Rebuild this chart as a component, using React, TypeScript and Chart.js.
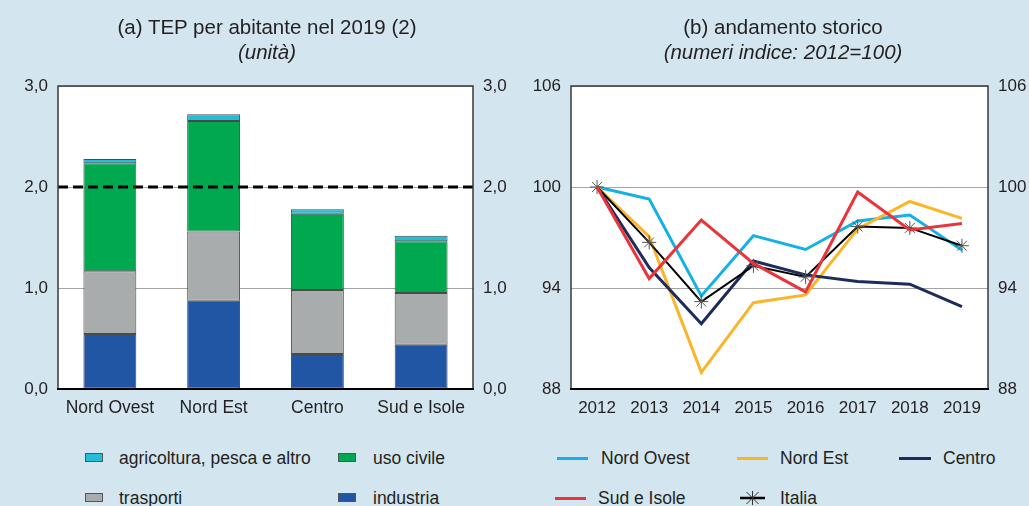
import React, { useEffect, useRef } from "react";
import { Chart, registerables } from "chart.js";

Chart.register(...registerables);

// ---- Panel (a) data ----
const categories = ["Nord Ovest", "Nord Est", "Centro", "Sud e Isole"];
const industria = [0.544, 0.874, 0.346, 0.439];
const trasporti = [0.623, 0.686, 0.633, 0.511];
const usoCivile = [1.068, 1.094, 0.755, 0.514];
const agricoltura = [0.043, 0.066, 0.046, 0.053];
const soglia = 2.0;
const leftTickLabels = ["0,0", "1,0", "2,0", "3,0"];

// ---- Panel (b) data ----
const years = ["2012", "2013", "2014", "2015", "2016", "2017", "2018", "2019"];
const nordOvest = [100, 99.28, 93.53, 97.11, 96.29, 97.98, 98.34, 96.25];
const nordEst = [100, 97.05, 88.99, 93.13, 93.59, 97.51, 99.14, 98.14];
const centro = [100, 95.22, 91.88, 95.6, 94.78, 94.39, 94.23, 92.89];
const sudIsole = [100, 94.56, 98.04, 95.46, 93.77, 99.7, 97.45, 97.83];
const italia = [100, 96.71, 93.19, 95.32, 94.66, 97.65, 97.57, 96.51];
const rightTickLabels = ["88", "94", "100", "106"];

const FONT = "'Liberation Sans', Arial, sans-serif";
const TXT = "#231f20";
const BG = "#d3e5ef";

const C_AGR = "#22bdd6";
const C_CIV = "#00a94f";
const C_TRA = "#a9acad";
const C_IND = "#2156a5";

const C_NO = "#14b1e7";
const C_NE = "#fbb52b";
const C_CE = "#1d2c5b";
const C_SU = "#e9343b";
const C_IT = "#000000";

const framePlugin = {
  id: "frame",
  beforeDraw(chart: any) {
    const { ctx, chartArea: a } = chart;
    ctx.save();
    ctx.fillStyle = "#ffffff";
    ctx.fillRect(a.left, a.top, a.right - a.left, a.bottom - a.top);
    ctx.restore();
  },
  afterDraw(chart: any) {
    const { ctx, chartArea: a } = chart;
    ctx.save();
    ctx.strokeStyle = "#3a3a3a";
    ctx.lineWidth = 1.5;
    ctx.beginPath();
    ctx.moveTo(a.left, a.bottom);
    ctx.lineTo(a.left, a.top);
    ctx.lineTo(a.right, a.top);
    ctx.lineTo(a.right, a.bottom);
    ctx.stroke();
    ctx.strokeStyle = "#000000";
    ctx.lineWidth = 2;
    ctx.beginPath();
    ctx.moveTo(a.left - 1, a.bottom);
    ctx.lineTo(a.right + 1, a.bottom);
    ctx.stroke();
    ctx.restore();
  },
};

const thresholdPlugin = {
  id: "threshold",
  afterDatasetsDraw(chart: any) {
    const { ctx, chartArea: a, scales } = chart;
    const y = scales.y.getPixelForValue(soglia);
    ctx.save();
    ctx.strokeStyle = "#000000";
    ctx.lineWidth = 3;
    ctx.setLineDash([10, 5]);
    ctx.beginPath();
    ctx.moveTo(a.left, y);
    ctx.lineTo(a.right, y);
    ctx.stroke();
    ctx.restore();
  },
};

const tickFont = { family: FONT, size: 17 };
const catFont = { family: FONT, size: 17.5 };

function BarPanel() {
  const ref = useRef<HTMLCanvasElement | null>(null);
  useEffect(() => {
    if (!ref.current) return;
    const bw = { borderColor: "#4a4a4a", borderWidth: 1, borderSkipped: false as any };
    const chart = new Chart(ref.current, {
      type: "bar",
      data: {
        labels: categories,
        datasets: [
          { label: "industria", data: industria, backgroundColor: C_IND, ...bw },
          { label: "trasporti", data: trasporti, backgroundColor: C_TRA, ...bw },
          { label: "uso civile", data: usoCivile, backgroundColor: C_CIV, ...bw },
          { label: "agricoltura, pesca e altro", data: agricoltura, backgroundColor: C_AGR, ...bw },
        ],
      },
      options: {
        responsive: false,
        animation: false,
        layout: { padding: { top: 86, bottom: 0, left: 0, right: 0 } },
        datasets: { bar: { barPercentage: 0.51, categoryPercentage: 1 } },
        plugins: { legend: { display: false }, tooltip: { enabled: false }, title: { display: false } },
        scales: {
          x: {
            stacked: true,
            grid: { display: false },
            border: { display: false },
            ticks: { color: TXT, font: catFont, padding: 1 },
            afterFit: (axis: any) => { axis.height = 31; },
          },
          y: {
            stacked: true,
            min: 0,
            max: 3,
            position: "left",
            grid: { color: "#a3a3a3", lineWidth: 1, drawTicks: false },
            border: { display: false },
            ticks: {
              stepSize: 1,
              color: TXT,
              font: tickFont,
              padding: 10,
              callback: (_v: any, i: number) => leftTickLabels[i],
            },
            afterFit: (axis: any) => { axis.width = 58; },
          },
          y2: {
            min: 0,
            max: 3,
            position: "right",
            grid: { display: false, drawTicks: false },
            border: { display: false },
            ticks: {
              stepSize: 1,
              color: TXT,
              font: tickFont,
              padding: 10,
              callback: (_v: any, i: number) => leftTickLabels[i],
            },
            afterFit: (axis: any) => { axis.width = 42; },
          },
        },
      },
      plugins: [framePlugin, thresholdPlugin],
    });
    return () => chart.destroy();
  }, []);
  return <canvas ref={ref} width={515} height={420} style={{ position: "absolute", left: 0, top: 0, display: "block" }} />;
}

function LinePanel() {
  const ref = useRef<HTMLCanvasElement | null>(null);
  useEffect(() => {
    if (!ref.current) return;
    const common = { pointRadius: 0, borderWidth: 3, tension: 0, fill: false };
    const chart = new Chart(ref.current, {
      type: "line",
      data: {
        labels: years,
        datasets: [
          { label: "Sud e Isole", data: sudIsole, borderColor: C_SU, order: 0, ...common },
          {
            label: "Italia",
            data: italia,
            borderColor: C_IT,
            order: 1,
            ...common,
            borderWidth: 2,
            pointRadius: 7,
            pointStyle: "star",
            pointBorderColor: "#555555",
            pointBackgroundColor: "rgba(0,0,0,0)",
            pointBorderWidth: 1,
          },
          { label: "Centro", data: centro, borderColor: C_CE, order: 2, ...common },
          { label: "Nord Est", data: nordEst, borderColor: C_NE, order: 3, ...common },
          { label: "Nord Ovest", data: nordOvest, borderColor: C_NO, order: 4, ...common },
        ],
      },
      options: {
        responsive: false,
        animation: false,
        layout: { padding: { top: 86, bottom: 0, left: 0, right: 0 } },
        plugins: { legend: { display: false }, tooltip: { enabled: false }, title: { display: false } },
        scales: {
          x: {
            offset: true,
            grid: { display: false },
            border: { display: false },
            ticks: { color: TXT, font: tickFont, padding: 1 },
            afterFit: (axis: any) => { axis.height = 31; },
          },
          y: {
            min: 88,
            max: 106,
            position: "left",
            grid: { color: "#a3a3a3", lineWidth: 1, drawTicks: false },
            border: { display: false },
            ticks: {
              stepSize: 6,
              color: TXT,
              font: tickFont,
              padding: 10,
              callback: (_v: any, i: number) => rightTickLabels[i],
            },
            afterFit: (axis: any) => { axis.width = 56; },
          },
          y2: {
            min: 88,
            max: 106,
            position: "right",
            grid: { display: false, drawTicks: false },
            border: { display: false },
            ticks: {
              stepSize: 6,
              color: TXT,
              font: tickFont,
              padding: 10,
              callback: (_v: any, i: number) => rightTickLabels[i],
            },
            afterFit: (axis: any) => { axis.width = 41; },
          },
        },
      },
      plugins: [framePlugin],
    });
    return () => chart.destroy();
  }, []);
  return <canvas ref={ref} width={514} height={420} style={{ position: "absolute", left: 515, top: 0, display: "block" }} />;
}

const textBase: React.CSSProperties = {
  position: "absolute",
  fontFamily: FONT,
  color: TXT,
  whiteSpace: "nowrap",
  lineHeight: "22px",
};

function Title({ cx, cy, text, italic, size }: { cx: number; cy: number; text: string; italic?: boolean; size: number }) {
  return (
    <div
      style={{
        ...textBase,
        left: cx - 250,
        width: 500,
        top: cy - 11,
        textAlign: "center",
        fontSize: size,
        fontStyle: italic ? "italic" : "normal",
      }}
    >
      {text}
    </div>
  );
}

function LegendText({ x, cy, text }: { x: number; cy: number; text: string }) {
  return <div style={{ ...textBase, left: x, top: cy - 11, fontSize: 17.5 }}>{text}</div>;
}

function LegendBox({ x, cy, color }: { x: number; cy: number; color: string }) {
  return (
    <div
      style={{
        position: "absolute",
        left: x,
        top: cy - 5,
        width: 18,
        height: 9,
        background: color,
        border: "1px solid #555",
        boxSizing: "border-box",
      }}
    />
  );
}

function LegendLine({ x1, x2, cy, color }: { x1: number; x2: number; cy: number; color: string }) {
  return <div style={{ position: "absolute", left: x1, top: cy - 1.5, width: x2 - x1, height: 3, background: color }} />;
}

function LegendStar({ x1, x2, cy }: { x1: number; x2: number; cy: number }) {
  const w = x2 - x1;
  const c = w / 2;
  return (
    <svg style={{ position: "absolute", left: x1, top: cy - 8 }} width={w} height={16}>
      <line x1={0} y1={8} x2={w} y2={8} stroke="#000" strokeWidth={2.5} />
      <line x1={c - 6} y1={2} x2={c + 6} y2={14} stroke="#333" strokeWidth={1} />
      <line x1={c + 6} y1={2} x2={c - 6} y2={14} stroke="#333" strokeWidth={1} />
      <line x1={c} y1={1} x2={c} y2={15} stroke="#333" strokeWidth={1} />
    </svg>
  );
}

export default function App() {
  const r1 = 458;
  const r2 = 498;
  return (
    <div
      style={{
        position: "fixed",
        left: 0,
        top: 0,
        width: 1029,
        height: 506,
        background: BG,
        overflow: "hidden",
      }}
    >
      <BarPanel />
      <LinePanel />

      <Title cx={267} cy={27} text="(a) TEP per abitante nel 2019 (2)" size={20.5} />
      <Title cx={267} cy={52} text="(unità)" italic size={20.5} />
      <Title cx={783} cy={27} text="(b) andamento storico" size={20.5} />
      <Title cx={783} cy={52} text="(numeri indice: 2012=100)" italic size={20.5} />

      <LegendBox x={85} cy={r1} color={C_AGR} />
      <LegendText x={119} cy={r1} text="agricoltura, pesca e altro" />
      <LegendBox x={338} cy={r1} color={C_CIV} />
      <LegendText x={373} cy={r1} text="uso civile" />
      <LegendBox x={85} cy={r2} color={C_TRA} />
      <LegendText x={119} cy={r2} text="trasporti" />
      <LegendBox x={338} cy={r2} color={C_IND} />
      <LegendText x={373} cy={r2} text="industria" />

      <LegendLine x1={557} x2={588} cy={r1} color={C_NO} />
      <LegendText x={601} cy={r1} text="Nord Ovest" />
      <LegendLine x1={737} x2={768} cy={r1} color={C_NE} />
      <LegendText x={780} cy={r1} text="Nord Est" />
      <LegendLine x1={899} x2={931} cy={r1} color={C_CE} />
      <LegendText x={943} cy={r1} text="Centro" />
      <LegendLine x1={555} x2={586} cy={r2} color={C_SU} />
      <LegendText x={598} cy={r2} text="Sud e Isole" />
      <LegendStar x1={740} x2={765} cy={r2} />
      <LegendText x={780} cy={r2} text="Italia" />
    </div>
  );
}
